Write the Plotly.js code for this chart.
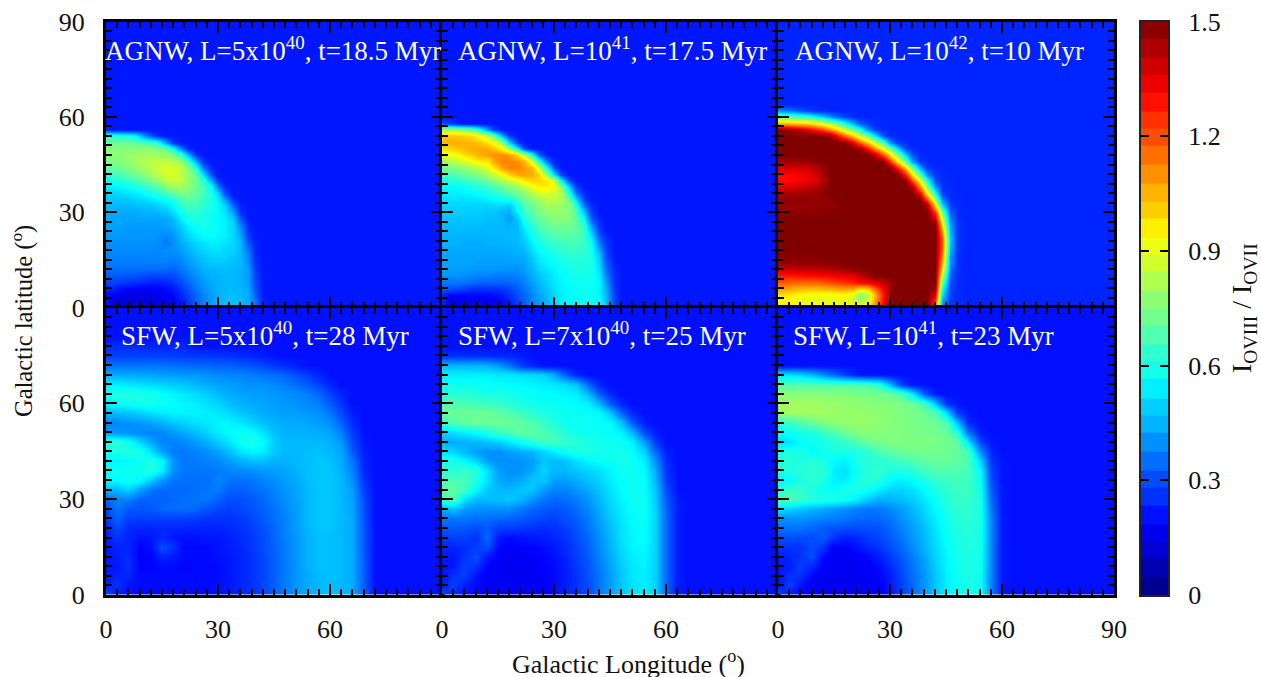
<!DOCTYPE html>
<html><head><meta charset="utf-8">
<script src="https://cdn.plot.ly/plotly-3.0.1.min.js"></script>
<style>html,body{margin:0;padding:0;background:#fff}</style></head>
<body><div id="chart" style="width:1261px;height:677px"></div>
<script>
// Ratio values are in hundredths. Each row runs from longitude 0 outward; the part of a row not listed is background.
const grid2=[0,2,4,6,8,10,12,14,16,18,20,22,24,26,28,30,32,34,36,38,40,42,44,46,48,50,52,54,56,58,60,62,64,66,68,70,72,74,76,78,80,82,84,86,88,90];
const grid3=[0,3,6,9,12,15,18,21,24,27,30,33,36,39,42,45,48,51,54,57,60,63,66,69,72,75,78,81,84,87,90];
const colorLevels=[2,7,12,16,21,26,30,35,40,45,49,54,59,63,68,73,77,82,87,91,96,101,105,110,115,120,124,129,134,138,143,148];
const ratioTicks=[0,0.3,0.6,0.9,1.2,1.5];
const axisTicks=[0,30,60,90];
const panelLabels=["AGNW, L=5x10<sup>40</sup>, t=18.5 Myr","AGNW, L=10<sup>41</sup>, t=17.5 Myr","AGNW, L=10<sup>42</sup>, t=10 Myr","SFW, L=5x10<sup>40</sup>, t=28 Myr","SFW, L=7x10<sup>40</sup>, t=25 Myr","SFW, L=10<sup>41</sup>, t=23 Myr"];

const agn5e40=[ // latitude 56 down to 0, step 2
[24],
[62,62,60,58,54,42,30,24],
[72,72,72,72,70,68,66,60,42,26],
[76,76,76,76,76,77,76,74,70,58,38,24],
[76,76,77,78,80,80,80,80,78,74,64,44,25],
[74,75,76,78,80,82,84,84,84,82,78,66,44,26],
[70,71,73,75,78,80,84,86,88,88,84,76,60,36,24],
[64,65,68,70,73,76,80,84,88,88,84,78,70,52,30],
[60,60,62,64,67,70,74,78,84,86,84,78,72,64,44,26],
[54,55,56,58,60,63,66,70,76,80,80,76,72,66,58,36,24],
[50,50,51,52,54,56,59,62,66,70,74,74,70,66,60,50,30],
[48,48,48,48,50,51,53,55,58,60,68,70,68,64,60,54,42,26],
[46,46,46,46,47,47,48,50,52,56,62,66,66,62,60,56,50,34,24],
[44,44,44,44,44,45,45,46,47,52,58,62,62,60,58,56,52,42,26],
[43,43,43,43,43,43,43,43,44,46,54,60,60,60,58,56,54,48,32],
[43,43,43,42,42,42,42,42,43,45,50,56,58,60,58,56,54,50,38,25],
[42,42,42,41,41,41,41,41,41,42,47,52,56,58,58,56,54,50,42,26],
[41,41,41,41,41,41,41,40,38,40,46,50,53,55,56,55,54,50,44,28],
[40,40,40,40,40,40,40,39,37,40,44,47,50,52,54,54,52,50,46,32,24],
[39,39,39,39,39,39,39,39,40,40,42,45,48,50,52,52,50,50,46,36,24],
[38,38,38,38,38,38,38,39,39,38,40,43,46,48,50,50,50,48,46,38,25],
[37,37,37,37,37,37,37,37,37,36,38,41,44,46,48,48,48,47,46,40,26],
[35,35,35,35,35,34,34,34,34,33,36,39,42,45,46,46,47,46,45,42,27],
[32,32,32,31,31,30,29,29,29,30,33,37,40,43,45,45,46,46,45,42,28],
[28,28,27,26,25,24,23,23,24,26,30,34,38,41,44,45,46,46,45,42,30],
[24,24,20,19,19,18,18,19,20,22,27,31,36,40,43,45,46,46,46,43,31],
[20,18,15,15,14,15,15,16,18,20,24,29,34,38,42,45,46,47,46,44,33],
[22,15,13,12,13,13,14,15,16,18,22,27,33,38,42,45,47,47,46,44,35,24],
[26,18,14,14,14,15,15,15,16,18,22,26,32,38,42,45,47,47,47,44,36,25]];

const agn1e41=[ // latitude 58 down to 0, step 2
[30,28,24],
[82,82,80,76,70,60,42,28],
[100,102,102,100,98,92,84,70,44,26],
[104,106,106,105,104,102,98,92,78,50,28],
[98,100,102,104,106,106,106,102,94,80,56,30],
[90,92,94,98,102,106,108,110,110,108,100,84,58,32],
[80,82,85,88,92,96,96,106,112,112,110,106,88,62,34,24],
[72,74,76,78,81,84,90,98,108,112,112,108,104,84,56,30],
[66,67,69,71,74,77,80,86,92,100,106,108,106,100,76,52,28],
[60,61,62,64,66,68,72,76,82,86,90,96,100,100,98,86,56,30],
[56,56,57,58,60,62,64,68,72,76,80,86,92,96,96,92,76,48,27],
[54,54,54,55,56,57,59,61,64,68,72,76,82,88,88,86,82,62,36,25],
[52,52,52,52,52,53,54,56,58,58,66,72,76,80,84,84,82,72,50,28],
[50,50,50,50,50,50,50,51,50,48,58,68,72,76,80,80,78,76,62,36,25],
[49,49,49,49,49,49,48,48,46,44,54,64,70,74,77,78,78,76,68,48,28],
[48,48,48,48,48,48,47,47,46,42,48,60,66,71,74,76,76,75,70,56,32,24],
[47,47,47,47,47,47,46,46,46,45,46,56,63,68,71,73,73,73,70,62,40,26],
[46,46,46,46,46,46,46,46,46,46,46,52,60,65,68,70,71,71,70,64,48,29],
[45,45,45,45,45,45,45,45,45,46,46,50,57,62,65,67,68,68,68,65,54,33,25],
[45,45,45,44,44,44,45,45,45,45,46,48,54,59,62,64,65,66,66,64,58,38,26],
[44,44,44,44,44,44,44,44,44,44,45,46,52,57,59,61,63,64,64,63,59,44,28],
[43,43,43,43,43,43,43,43,43,43,44,44,49,54,57,59,61,62,62,62,60,48,30],
[43,43,43,43,43,42,42,42,42,42,42,43,47,52,55,57,59,60,61,61,60,50,32,24],
[42,42,42,42,41,41,41,41,41,40,40,42,46,50,53,55,57,59,60,60,60,52,35,25],
[40,40,40,40,39,38,38,37,37,37,38,40,44,48,51,54,56,58,59,59,59,54,38,26],
[36,36,36,35,34,33,33,33,33,34,35,38,42,46,50,53,55,57,58,58,58,55,41,26],
[33,31,30,28,26,26,26,26,27,29,32,36,40,45,48,52,55,56,58,58,58,55,44,27],
[24,20,20,20,20,20,20,21,23,26,30,34,39,43,47,51,54,56,58,58,58,55,45,28],
[24,17,16,16,16,17,17,18,20,23,28,33,38,42,46,50,54,56,58,58,58,56,46,29],
[28,18,16,15,15,16,17,18,20,23,27,32,37,42,46,50,54,56,58,58,58,56,47,30]];

const agn1e42=[ // latitude 62 down to 0, step 2
[40,38,35,31,28,26,25],
[72,70,68,66,62,56,48,40,33,28,25],
[105,105,104,102,100,96,90,82,72,60,45,33,27,25],
[150,148,144,140,135,128,120,110,98,85,72,60,38,28,25],
[150,150,150,150,150,150,150,146,128,114,100,85,71,52,30,25],
[150,150,150,150,150,150,150,150,150,150,134,117,101,85,68,40,27,25],
[150,150,150,150,150,150,150,150,150,150,150,146,128,110,92,74,52,30,25],
[150,150,150,150,150,150,150,150,150,150,150,150,150,139,118,97,76,50,30,25],
[145,145,145,146,146,148,149,150,150,150,150,150,150,150,150,124,99,73,42,27,25],
[138,138,138,138,140,142,146,150,150,150,150,150,150,150,150,150,129,102,74,42,27,25],
[130,130,131,132,134,138,144,150,150,150,150,150,150,150,150,150,150,128,98,68,38,27,25],
[130,130,131,132,134,136,142,149,150,150,150,150,150,150,150,150,150,150,120,90,60,30,25],
[136,136,137,138,140,142,146,150,150,150,150,150,150,150,150,150,150,150,142,109,76,40,26,25],
[144,144,144,145,146,146,148,150,150,150,150,150,150,150,150,150,150,150,150,132,96,60,29,25],
[148,148,148,148,147,147,147,148,149,150,150,150,150,150,150,150,150,150,150,150,120,80,38,26,25],
[146,146,146,146,146,147,147,148,149,150,150,150,150,150,150,150,150,150,150,150,146,99,52,28,25],
[148,148,148,148,148,148,148,149,149,150,150,150,150,150,150,150,150,150,150,150,150,125,75,33,25],
[150,150,150,150,150,150,150,150,150,150,150,150,150,150,150,150,150,150,150,150,150,137,87,38,26],
[150,150,150,150,150,150,150,150,150,150,150,150,150,150,150,150,150,150,150,150,150,150,97,42,27],
[150,150,150,150,150,150,150,150,150,150,150,150,150,150,150,150,150,150,150,150,150,150,109,46,27],
[150,150,150,150,150,150,150,150,150,150,150,150,150,150,150,150,150,150,150,150,150,150,117,48,27],
[150,150,150,150,150,150,150,150,150,150,150,150,150,150,150,150,150,150,150,150,150,150,117,48,27],
[150,150,150,150,150,150,150,150,150,150,150,150,150,150,150,150,150,150,150,150,150,150,116,46,27],
[149,149,149,149,149,149,149,150,150,150,150,150,150,150,150,150,150,150,150,150,150,150,112,42,26],
[146,146,146,147,147,147,148,148,149,150,150,150,150,150,150,150,150,150,150,150,150,150,105,40,26],
[138,138,138,139,139,140,141,142,143,145,147,149,150,150,150,150,150,150,150,150,150,150,98,37,26],
[128,128,128,129,130,130,131,132,133,134,136,140,146,150,150,150,150,150,150,150,150,150,85,33,25],
[118,118,116,116,116,116,118,120,122,124,126,130,132,136,140,145,150,150,150,150,150,150,72,30,25],
[108,108,106,105,104,104,105,106,108,108,108,100,104,118,132,148,150,150,150,150,150,146,60,29,25],
[98,98,96,94,92,92,92,92,93,94,88,74,84,105,128,148,150,150,150,150,150,136,52,28,25],
[90,92,92,90,90,90,90,90,90,90,88,82,90,108,130,148,150,150,150,150,150,124,44,27,25],
[105,105,104,103,102,100,100,98,98,98,98,98,100,112,135,150,150,150,150,150,150,120,36,26,25]];

const sfw5e40=[ // latitude 78 down to 0, step 3
[25,25,25,24,24,24,24,24],
[28,28,28,28,28,28,28,27,27,27,26,26,25,24,23],
[36,36,36,36,36,36,35,35,34,34,33,33,32,31,29,27,25,23],
[44,44,44,43,43,42,42,41,41,40,39,38,38,37,36,35,33,30,27,24],
[54,54,53,52,51,50,49,48,46,44,43,42,41,40,40,39,37,35,32,28,24],
[60,61,61,60,59,57,55,53,51,49,46,44,43,42,42,41,40,39,37,34,28,24],
[56,57,58,59,59,58,56,55,54,52,50,47,45,44,43,42,41,40,39,37,32,26],
[46,47,48,50,52,54,55,55,55,54,53,51,48,46,44,43,42,42,41,40,36,29,23],
[38,39,40,41,43,45,48,50,52,53,55,55,53,50,47,45,44,44,43,42,40,33,25],
[41,41,40,39,38,39,41,44,47,50,54,56,58,57,52,47,45,45,45,44,43,37,27],
[62,62,58,50,43,38,38,39,42,45,49,53,58,60,56,49,46,46,46,46,45,41,30,22],
[60,60,61,60,52,42,37,37,38,40,43,47,52,55,54,48,46,46,47,47,46,43,32,23],
[55,55,56,58,60,56,40,36,37,38,39,42,45,47,47,45,45,46,47,48,47,44,36,24],
[58,58,58,58,62,54,40,36,36,36,37,38,39,40,41,42,43,45,47,48,48,45,38,24],
[56,56,58,56,48,40,36,35,35,35,38,36,35,36,38,40,42,44,47,48,48,46,40,26],
[46,46,50,42,36,34,34,34,35,36,37,33,33,34,36,38,41,43,46,48,48,46,42,28],
[33,38,37,33,33,33,34,35,36,36,33,30,30,32,34,37,40,43,46,48,48,46,43,29],
[30,36,32,31,32,34,35,35,34,31,29,28,29,31,33,36,39,42,46,48,48,46,43,30],
[27,33,28,28,28,28,28,28,27,26,26,26,27,29,32,35,38,42,46,48,48,46,44,30],
[24,30,25,24,24,24,24,24,24,24,24,25,26,28,31,34,38,42,46,48,48,46,44,31],
[23,26,24,21,22,25,22,21,21,22,22,23,25,27,30,34,38,41,45,47,47,46,44,31],
[22,24,24,19,21,30,26,20,20,20,21,23,24,27,30,33,37,41,45,47,47,46,44,31],
[22,23,25,18,19,24,22,20,20,20,21,22,24,26,29,33,37,41,45,47,47,46,44,32],
[22,22,26,19,19,20,20,19,20,20,20,22,24,26,29,33,37,41,45,47,47,46,44,32],
[22,24,24,20,20,20,20,20,20,20,20,22,24,26,29,33,37,41,44,46,47,46,44,32],
[24,26,21,20,20,20,20,20,20,20,21,22,24,26,29,33,37,41,44,46,47,46,44,32],
[30,22,21,20,20,20,20,20,20,20,21,22,24,26,29,33,37,41,44,46,47,46,44,33]];

const sfw7e40=[ // latitude 75 down to 0, step 3
[25,25,25,25,25,24,24,23],
[46,46,46,46,45,42,36,28,24],
[54,54,54,54,54,53,53,52,51,50,44,32,24],
[58,58,58,58,57,57,56,56,55,54,53,52,48,34,24],
[62,62,62,61,60,60,59,58,57,56,56,55,54,46,32,24],
[68,68,67,66,65,64,62,60,59,58,57,57,56,55,46,32,24],
[72,72,72,72,72,70,68,65,62,60,59,58,58,57,56,48,33,24],
[66,68,70,72,72,72,72,70,68,64,60,58,58,58,57,56,48,32,23],
[50,52,54,57,60,64,67,70,70,68,65,61,58,58,58,57,55,46,30,23],
[44,44,45,46,48,50,54,58,62,66,66,64,62,60,59,58,58,54,42,27],
[52,50,46,42,40,40,42,44,46,50,54,58,60,60,59,59,59,57,50,34,23],
[60,60,56,50,42,40,40,40,42,48,46,48,52,55,57,58,59,58,54,40,25],
[62,62,64,62,52,42,40,40,44,50,46,46,48,50,52,55,58,58,56,44,26],
[66,68,66,60,52,44,42,44,48,48,42,42,44,47,50,54,57,58,57,46,28],
[70,70,66,56,48,46,46,48,48,42,38,38,41,44,48,52,56,58,57,48,30],
[66,68,52,46,46,47,48,46,40,36,34,35,37,41,46,51,55,58,58,49,32,23],
[44,48,42,40,40,40,40,37,34,32,31,32,35,39,44,50,54,57,58,50,33,23],
[36,36,36,35,35,34,33,32,30,29,28,30,33,37,43,48,53,56,58,50,34,23],
[32,32,32,30,32,28,28,27,26,25,26,28,31,36,41,47,52,56,57,50,34,23],
[27,28,28,26,34,22,20,21,22,23,24,26,30,34,40,46,52,55,57,50,34,23],
[24,24,25,28,30,20,18,19,19,20,22,25,28,33,39,45,51,55,56,50,34,23],
[22,22,26,30,22,18,17,17,18,19,21,24,28,32,38,44,50,54,55,50,34,23],
[21,22,28,26,19,17,17,17,17,19,20,23,27,31,37,43,49,53,55,50,34,23],
[21,26,28,21,18,17,17,17,17,18,20,23,26,31,36,42,48,53,54,50,34,23],
[23,28,23,20,18,17,17,17,17,18,20,23,26,30,36,42,48,52,54,50,34,23],
[30,24,21,20,18,17,17,17,17,18,20,23,26,30,36,42,48,52,54,50,34,23]];

const sfw1e41=[ // latitude 69 down to 0, step 3
[52,52,50,46,40,34,28,23],
[68,68,68,68,68,68,68,68,66,62,46,28,22],
[76,76,76,76,76,75,75,74,74,73,72,68,54,32,22],
[80,80,80,80,79,78,78,77,76,76,75,74,72,66,48,26,22],
[78,80,80,80,80,79,78,78,78,77,76,75,74,72,68,52,27,22],
[62,64,68,72,75,77,78,78,78,77,76,75,74,73,72,68,46,25],
[58,58,60,60,64,68,72,75,76,76,75,75,74,74,73,71,62,36,23],
[50,52,56,58,60,62,64,68,72,74,75,75,75,75,74,73,70,52,28,22],
[60,60,60,56,58,60,60,60,63,67,70,72,73,73,73,72,71,66,40,24],
[63,62,60,62,60,56,54,60,62,62,64,66,68,70,71,71,70,67,50,26,22],
[60,60,62,63,62,54,52,58,62,64,60,60,62,66,68,68,68,66,56,28,22],
[56,57,60,63,60,54,54,60,62,60,56,54,56,60,63,65,66,65,58,30,22],
[62,64,64,60,58,57,60,60,58,54,50,50,52,56,60,63,65,65,59,32,22],
[68,68,64,62,60,60,58,54,48,44,45,47,49,53,58,62,64,64,60,34,22],
[52,50,48,46,44,42,40,38,36,37,39,42,46,51,56,60,63,63,60,36,22],
[40,40,40,39,38,37,36,34,34,34,36,40,44,49,54,59,62,63,60,38,22],
[36,36,36,34,32,31,30,30,30,31,34,38,42,47,53,58,61,62,60,38,22],
[30,30,30,30,32,26,23,24,27,29,32,36,41,46,52,57,60,61,60,38,22],
[26,26,26,30,26,17,18,21,24,26,30,34,39,45,51,56,60,61,60,38,22],
[23,24,26,30,20,17,17,18,20,23,27,32,37,43,50,55,59,60,59,38,22],
[22,23,28,24,18,17,17,17,18,20,25,30,36,42,49,55,59,60,59,38,22],
[21,26,26,19,17,17,17,17,17,19,23,29,35,41,48,54,58,60,58,38,22],
[22,28,21,18,17,17,17,17,17,18,22,28,34,41,48,54,58,60,58,38,22],
[30,22,19,18,17,17,17,17,17,18,22,28,34,41,48,54,58,60,58,38,22]];

const W=1261,H=677;
const panelX=[[106,442],[442,778],[778,1114]];
const panelY=[[21.5,307.5],[307.5,595]];
const jet=[[0,'rgb(0,0,128)'],[0.125,'rgb(0,0,255)'],[0.375,'rgb(0,255,255)'],[0.625,'rgb(255,255,0)'],[0.875,'rgb(255,0,0)'],[1,'rgb(128,0,0)']];
const serif='"Liberation Serif","Times New Roman",serif';

function gridZ(rows,grid,bg){
  return grid.map((lat,j)=>{
    const row=rows[rows.length-1-j]||[];
    return grid.map((lon,i)=>(i<row.length?row[i]:bg)/100);
  });
}
const panels=[[agn5e40,grid2,22],[agn1e41,grid2,22],[agn1e42,grid2,24],[sfw5e40,grid3,21],[sfw7e40,grid3,21],[sfw1e41,grid3,21]];
const data=panels.map((p,k)=>({type:'heatmap',x:p[1],y:p[1],z:gridZ(p[0],p[1],p[2]),zsmooth:'best',
  coloraxis:'coloraxis',xaxis:k?'x'+(k+1):'x',yaxis:k?'y'+(k+1):'y',hoverinfo:'skip'}));
data.push({type:'heatmap',x:[0.5],y:colorLevels.map(v=>v/100),z:colorLevels.map(v=>[v/100]),zsmooth:false,
  colorscale:jet,zmin:0,zmax:1.5,showscale:false,xaxis:'x7',yaxis:'y7',hoverinfo:'skip'});

const axisBase={ticks:'inside',ticklen:11,tickwidth:2,tickcolor:'#000',showline:true,linecolor:'#000',linewidth:3,mirror:'ticks',
  showgrid:false,zeroline:false,range:[0,90],tickmode:'array',tickvals:axisTicks,
  minor:{ticks:'inside',ticklen:6,tickwidth:2,tickcolor:'#000',tickmode:'linear',tick0:0,dtick:3,showgrid:false},
  tickfont:{family:serif,size:26,color:'#111'}};
const layout={width:W,height:H,margin:{l:0,r:0,t:0,b:0},paper_bgcolor:'#fff',plot_bgcolor:'#fff',showlegend:false,
  coloraxis:{colorscale:jet,cmin:0,cmax:1.5,showscale:false},annotations:[]};
for(let k=0;k<6;k++){
  const c=k%3,r=k<3?0:1,s=k?String(k+1):'';
  layout['xaxis'+s]=Object.assign({},axisBase,{domain:[panelX[c][0]/W,panelX[c][1]/W],anchor:'y'+s,ticklabelstandoff:9,
    showticklabels:r===1,ticktext:c===2?['0','30','60','90']:['0','30','60','']});
  layout['yaxis'+s]=Object.assign({},axisBase,{domain:[1-panelY[r][1]/H,1-panelY[r][0]/H],anchor:'x'+s,ticklabelstandoff:13,
    showticklabels:c===0,ticktext:r===0?['0','30','60','90']:['0','30','60','']});
}
layout.xaxis7={domain:[1141/W,1168/W],range:[0,1],anchor:'y7',showticklabels:false,ticks:'',showline:true,linecolor:'#222',linewidth:2,mirror:true,showgrid:false,zeroline:false};
layout.yaxis7={domain:[1-595/H,1-21.5/H],range:[0,1.5],anchor:'x7',side:'right',ticks:'inside',ticklen:8,tickwidth:2,tickcolor:'#000',
  showline:true,linecolor:'#222',linewidth:2,mirror:'ticks',showgrid:false,zeroline:false,tickmode:'array',tickvals:ratioTicks,ticktext:['0','0.3','0.6','0.9','1.2','1.5'],
  tickfont:{family:serif,size:26,color:'#111'},ticklabelstandoff:13};

const labelCx=[273,612,939,265,602,924],labelCy=[49,49,49,334,334,334];
panelLabels.forEach((t,i)=>layout.annotations.push({text:t,xref:'paper',yref:'paper',x:labelCx[i]/W,y:1-labelCy[i]/H,xanchor:'center',yanchor:'middle',
  showarrow:false,font:{family:serif,size:27,color:'#fff'}}));
layout.annotations.push({text:'Galactic Longitude (<sup>o</sup>)',xref:'paper',yref:'paper',x:628/W,y:1-662/H,xanchor:'center',yanchor:'middle',showarrow:false,font:{family:serif,size:26,color:'#111'}});
layout.annotations.push({text:'Galactic latitude (<sup>o</sup>)',xref:'paper',yref:'paper',x:22/W,y:1-321/H,xanchor:'center',yanchor:'middle',textangle:-90,showarrow:false,font:{family:serif,size:24.5,color:'#111'}});
layout.annotations.push({text:'I<sub>OVIII</sub> / I<sub>OVII</sub>',xref:'paper',yref:'paper',x:1243/W,y:1-308/H,xanchor:'center',yanchor:'middle',textangle:-90,showarrow:false,font:{family:serif,size:28,color:'#111'}});
Plotly.newPlot('chart',data,layout,{displayModeBar:false,staticPlot:true});
</script></body></html>
